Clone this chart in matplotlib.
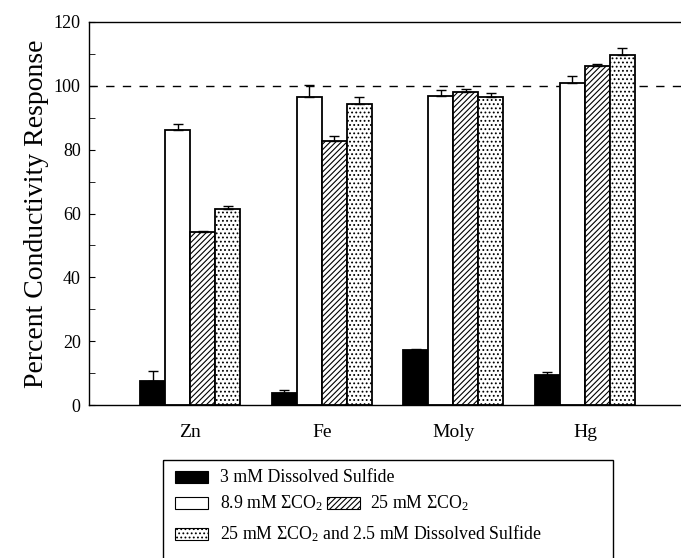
import numpy as np
import matplotlib
matplotlib.use("Agg")
import matplotlib.pyplot as plt
from matplotlib.patches import Rectangle

plt.rcParams['font.family'] = ['Liberation Serif', 'DejaVu Serif']
plt.rcParams['mathtext.fontset'] = 'custom'
plt.rcParams['mathtext.rm'] = 'Liberation Serif'
plt.rcParams['mathtext.it'] = 'Liberation Serif:italic'
plt.rcParams['hatch.linewidth'] = 0.8

# ---- DATA ----
metals = ["Zn", "Fe", "Moly", "Hg"]

sulfide_3mM = [7.6, 3.9, 17.2, 9.4]
sulfide_3mM_err = [3.0, 0.8, 0.2, 0.8]

co2_8_9mM = [86.2, 96.6, 96.9, 101.0]
co2_8_9mM_err = [1.9, 3.7, 1.8, 2.2]

co2_25mM = [54.1, 82.8, 98.0, 106.3]
co2_25mM_err = [0.3, 1.6, 1.0, 0.4]

co2_25mM_sulf = [61.4, 94.4, 96.6, 109.6]
co2_25mM_sulf_err = [0.8, 2.0, 1.3, 2.2]

series = [
    (sulfide_3mM, sulfide_3mM_err, "black", None),
    (co2_8_9mM, co2_8_9mM_err, "white", None),
    (co2_25mM, co2_25mM_err, "white", "//////"),
    (co2_25mM_sulf, co2_25mM_sulf_err, "white", "...."),
]
legend_labels = [
    "3 mM Dissolved Sulfide",
    "8.9 mM \u03a3CO$_\\mathrm{2}$",
    "25 mM \u03a3CO$_\\mathrm{2}$",
    "25 mM \u03a3CO$_\\mathrm{2}$ and 2.5 mM Dissolved Sulfide",
]

fig = plt.figure(figsize=(6.81, 5.58), dpi=100)
ax = fig.add_axes([89 / 681, 1 - 405 / 558, (681 - 89) / 681, (405 - 22) / 558])

x = np.arange(len(metals))
w = 0.19
for i, (vals, errs, fc, hatch) in enumerate(series):
    pos = x + (i - 1.5) * w
    ax.bar(pos, vals, width=w, color=fc, edgecolor="black", linewidth=1.3,
           hatch=hatch, zorder=2)
    ax.errorbar(pos, vals, yerr=[np.zeros(len(errs)), errs], fmt="none",
                ecolor="black", elinewidth=1.0, capsize=3.5, capthick=1.0, zorder=3)

ax.axhline(100, color="black", linestyle=(0, (6, 6)), linewidth=1.0, zorder=1)

ax.set_xlim(-0.768, 3.73)
ax.set_ylim(0, 120)
ax.set_xticks(x)
ax.set_xticklabels(metals, fontsize=14)
ax.tick_params(axis="x", length=0, pad=14)
ax.set_yticks(np.arange(0, 121, 20))
ax.set_yticks(np.arange(0, 121, 10), minor=True)
ax.tick_params(axis="y", which="both", direction="in", length=4, labelsize=13, pad=6)
ax.spines["right"].set_visible(False)
for s in ["left", "top", "bottom"]:
    ax.spines[s].set_linewidth(1.0)
ax.set_ylabel("Percent Conductivity Response", fontsize=20, labelpad=3)

# ---- custom legend box ----
lax = fig.add_axes([0, 0, 1, 1])
lax.set_xlim(0, 681)
lax.set_ylim(558, 0)
lax.axis("off")
lax.add_patch(Rectangle((163, 460), 613 - 163, 110, fill=False, edgecolor="black", linewidth=1.0))

entries = [
    (0, 175, 477, 220),
    (1, 175, 503, 220),
    (2, 327, 503, 370),
    (3, 175, 534, 220),
]
for idx, px, py, tx in entries:
    _, _, fc, hatch = series[idx]
    lax.add_patch(Rectangle((px, py - 6), 33, 12, facecolor=fc, edgecolor="black",
                            linewidth=0.8, hatch=hatch))
    lax.text(tx, py, legend_labels[idx], fontsize=12.8, va="center", ha="left")

fig.savefig("out.png", dpi=100)
